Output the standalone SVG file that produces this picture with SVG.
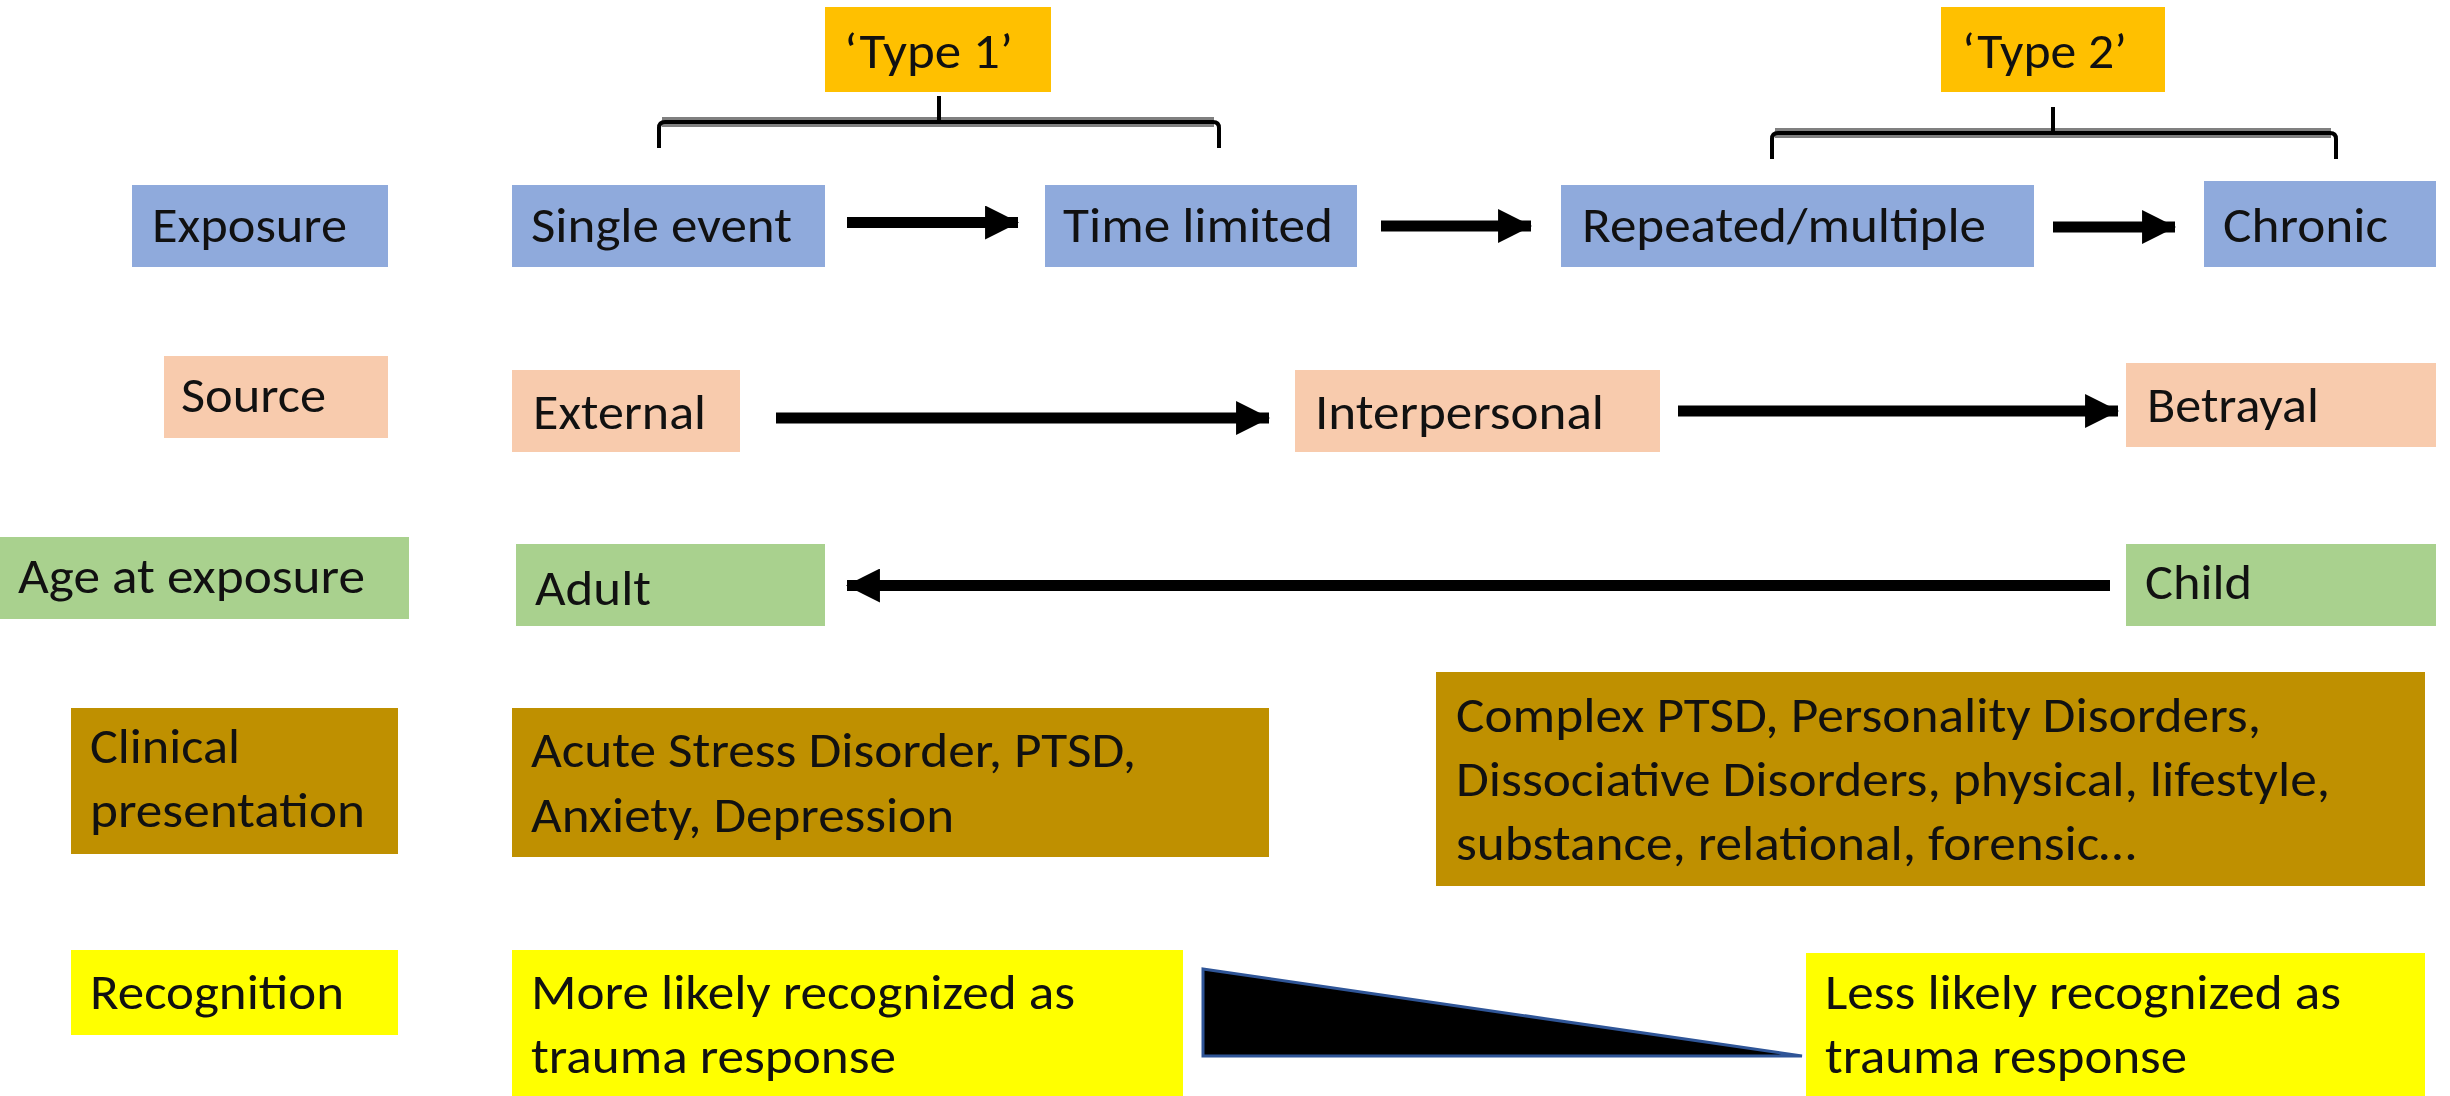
<svg xmlns="http://www.w3.org/2000/svg" width="2450" height="1096" viewBox="0 0 2450 1096">
  <style>
    text { font-family: Carlito, Lato, "Liberation Sans", sans-serif; font-size: 50px; fill: #111; }
    .blue { fill: #8FAADC; }
    .peach { fill: #F8CBAD; }
    .green { fill: #A9D18E; }
    .gold { fill: #BF9000; }
    .yellow { fill: #FFFF00; }
    .orange { fill: #FFC000; }
    .arrow { stroke: #000; stroke-width: 11; fill: none; marker-end: url(#head); }
    .brace-shadow { stroke: #808080; stroke-width: 10; fill: none; }
    .brace { stroke: #000; stroke-width: 4; fill: none; }
  </style>
  <defs>
    <marker id="head" markerUnits="userSpaceOnUse" markerWidth="34" markerHeight="34" viewBox="0 0 32 32" refX="31" refY="16" orient="auto">
      <path d="M0,0 L32,16 L0,32 Z" fill="#000"/>
    </marker>
  </defs>

  <rect width="2450" height="1096" fill="#fff"/>

  <!-- brackets over the exposure row -->
  <g id="brace-type1">
    <path class="brace-shadow" d="M662,122 H1214"/>
    <path class="brace" d="M939,96 V122"/>
    <path class="brace" d="M659,148 V128 Q659,122 665,122 H1213 Q1219,122 1219,128 V148"/>
  </g>
  <g id="brace-type2">
    <path class="brace-shadow" d="M1775,133 H2331"/>
    <path class="brace" d="M2053,107 V133"/>
    <path class="brace" d="M1772,159 V139 Q1772,133 1778,133 H2330 Q2336,133 2336,139 V159"/>
  </g>

  <g id="type1">
    <rect class="orange" x="825" y="7" width="226" height="85"/>
    <text x="844" y="68" textLength="169" lengthAdjust="spacingAndGlyphs">‘Type 1’</text>
  </g>
  <g id="type2">
    <rect class="orange" x="1941" y="7" width="224" height="85"/>
    <text x="1962" y="68" textLength="165" lengthAdjust="spacingAndGlyphs">‘Type 2’</text>
  </g>

  <!-- row labels -->
  <g id="label-exposure">
    <rect class="blue" x="132" y="185" width="256" height="82"/>
    <text x="152" y="242" textLength="195" lengthAdjust="spacingAndGlyphs">Exposure</text>
  </g>
  <g id="label-source">
    <rect class="peach" x="164" y="356" width="224" height="82"/>
    <text x="181" y="412" textLength="145" lengthAdjust="spacingAndGlyphs">Source</text>
  </g>
  <g id="label-age">
    <rect class="green" x="0" y="537" width="409" height="82"/>
    <text x="18" y="593" textLength="347" lengthAdjust="spacingAndGlyphs">Age at exposure</text>
  </g>
  <g id="label-clinical">
    <rect class="gold" x="71" y="708" width="327" height="146"/>
    <text x="90" y="763" textLength="150" lengthAdjust="spacingAndGlyphs">Clinical</text>
    <text x="90" y="827" textLength="275" lengthAdjust="spacingAndGlyphs">presentation</text>
  </g>
  <g id="label-recognition">
    <rect class="yellow" x="71" y="950" width="327" height="85"/>
    <text x="90" y="1009" textLength="254" lengthAdjust="spacingAndGlyphs">Recognition</text>
  </g>

  <!-- exposure row -->
  <g id="single-event">
    <rect class="blue" x="512" y="185" width="313" height="82"/>
    <text x="531" y="242" textLength="261" lengthAdjust="spacingAndGlyphs">Single event</text>
  </g>
  <g id="time-limited">
    <rect class="blue" x="1045" y="185" width="312" height="82"/>
    <text x="1063" y="242" textLength="270" lengthAdjust="spacingAndGlyphs">Time limited</text>
  </g>
  <g id="repeated">
    <rect class="blue" x="1561" y="185" width="473" height="82"/>
    <text x="1582" y="242" textLength="404" lengthAdjust="spacingAndGlyphs">Repeated/multiple</text>
  </g>
  <g id="chronic">
    <rect class="blue" x="2204" y="181" width="232" height="86"/>
    <text x="2223" y="242" textLength="165" lengthAdjust="spacingAndGlyphs">Chronic</text>
  </g>

  <!-- source row -->
  <g id="external">
    <rect class="peach" x="512" y="370" width="228" height="82"/>
    <text x="533" y="429" textLength="173" lengthAdjust="spacingAndGlyphs">External</text>
  </g>
  <g id="interpersonal">
    <rect class="peach" x="1295" y="370" width="365" height="82"/>
    <text x="1315" y="429" textLength="289" lengthAdjust="spacingAndGlyphs">Interpersonal</text>
  </g>
  <g id="betrayal">
    <rect class="peach" x="2126" y="363" width="310" height="84"/>
    <text x="2147" y="422" textLength="172" lengthAdjust="spacingAndGlyphs">Betrayal</text>
  </g>

  <!-- age row -->
  <g id="adult">
    <rect class="green" x="516" y="544" width="309" height="82"/>
    <text x="535" y="605" textLength="116" lengthAdjust="spacingAndGlyphs">Adult</text>
  </g>
  <g id="child">
    <rect class="green" x="2126" y="544" width="310" height="82"/>
    <text x="2145" y="599" textLength="107" lengthAdjust="spacingAndGlyphs">Child</text>
  </g>

  <!-- clinical presentation row -->
  <g id="acute">
    <rect class="gold" x="512" y="708" width="757" height="149"/>
    <text x="531" y="767" textLength="605" lengthAdjust="spacingAndGlyphs">Acute Stress Disorder, PTSD,</text>
    <text x="531" y="832" textLength="423" lengthAdjust="spacingAndGlyphs">Anxiety, Depression</text>
  </g>
  <g id="complex">
    <rect class="gold" x="1436" y="672" width="989" height="214"/>
    <text x="1456" y="732" textLength="805" lengthAdjust="spacingAndGlyphs">Complex PTSD, Personality Disorders,</text>
    <text x="1456" y="796" textLength="874" lengthAdjust="spacingAndGlyphs">Dissociative Disorders, physical, lifestyle,</text>
    <text x="1456" y="860" textLength="680" lengthAdjust="spacingAndGlyphs">substance, relational, forensic…</text>
  </g>

  <!-- recognition row -->
  <g id="more-likely">
    <rect class="yellow" x="512" y="950" width="671" height="146"/>
    <text x="531" y="1009" textLength="544" lengthAdjust="spacingAndGlyphs">More likely recognized as</text>
    <text x="531" y="1073" textLength="365" lengthAdjust="spacingAndGlyphs">trauma response</text>
  </g>
  <g id="less-likely">
    <rect class="yellow" x="1806" y="953" width="619" height="143"/>
    <text x="1825" y="1009" textLength="516" lengthAdjust="spacingAndGlyphs">Less likely recognized as</text>
    <text x="1825" y="1073" textLength="362" lengthAdjust="spacingAndGlyphs">trauma response</text>
  </g>
  <g id="wedge">
    <polygon points="1203,969 1203,1056 1802,1056" fill="#000" stroke="#2F5597" stroke-width="3" stroke-linejoin="miter"/>
  </g>

  <!-- connectors -->
  <g id="connectors">
    <path class="arrow" d="M847,222.5 H1018"/>
    <path class="arrow" d="M1381,226 H1531"/>
    <path class="arrow" d="M2053,227 H2175"/>
    <path class="arrow" d="M776,418 H1269"/>
    <path class="arrow" d="M1678,411 H2118"/>
    <path class="arrow" d="M2110,585.5 H847"/>
  </g>
</svg>
